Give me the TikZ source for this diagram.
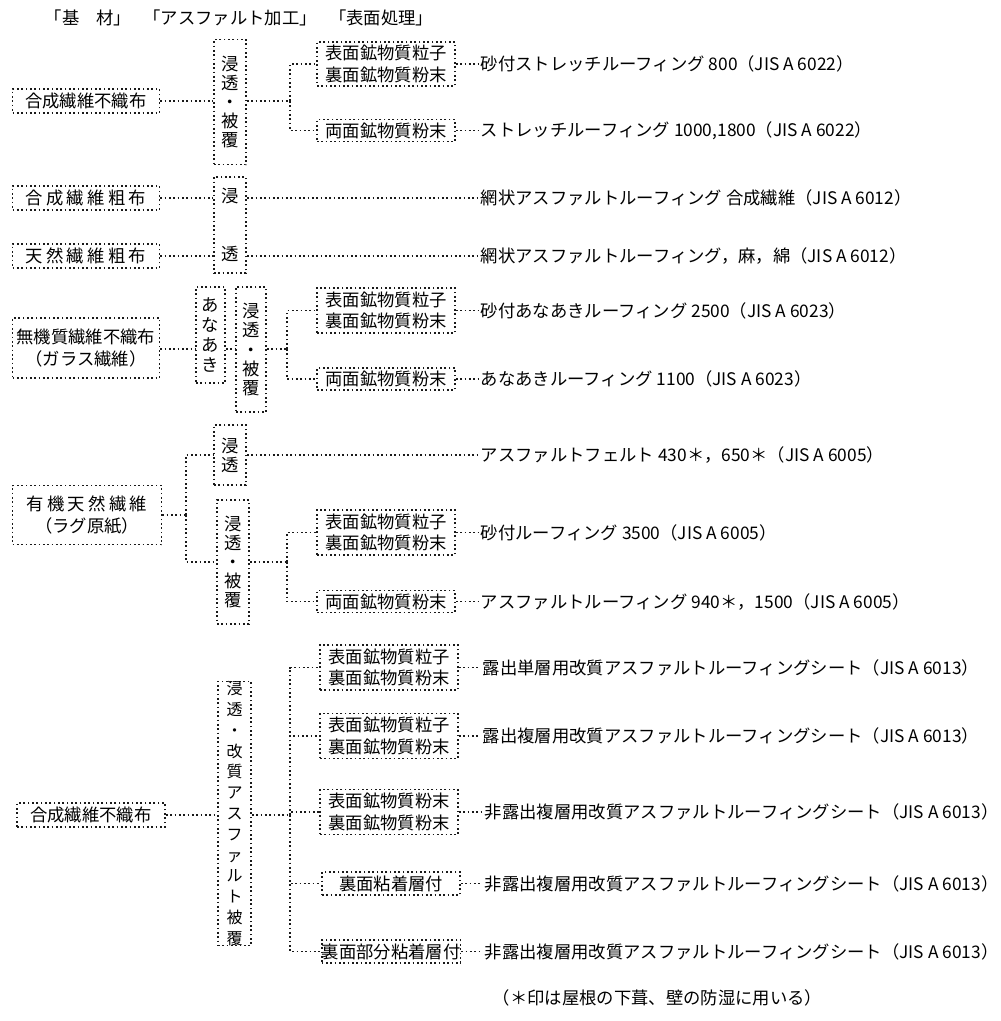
\documentclass[tikz,border=0pt]{standalone}
\usepackage{fontspec}
\setmainfont{Noto Sans CJK JP}
\begin{document}
\begin{tikzpicture}[x=0.75pt,y=-0.75pt,
  dl/.style={line width=1.25pt, dash pattern=on 1.25pt off 2pt, draw=black!90},
  wh/.style 2 args={minimum width=#1*0.75pt, minimum height=#2*0.75pt},
  bx/.style={dl, draw, inner sep=0pt, align=center, font=\fontsize{13}{16}\selectfont},
  vb/.style={dl, draw, inner sep=0pt, align=center, font=\fontsize{13}{14.3}\selectfont},
  outtxt/.style={anchor=west, inner sep=2pt, font=\fontsize{13}{16}\selectfont},
  hd/.style={inner sep=0pt, font=\fontsize{13}{16}\selectfont}]
\useasboundingbox[fill=white] (0,0) rectangle (1000,1021);

% header
\node[hd] (h1) at (88,18) {「基\kern13pt 材」};
\node[hd] (h2) at (230,18) {「アスファルト加工」};
\node[hd] (h3) at (381,18) {「表面処理」};

% ---------- block 1
\node[bx, wh={147}{24}] (L1) at (86,101) {合成繊維不織布};
\node[vb, wh={32}{125}] (P1) at (230,102) {浸\\透\\・\\被\\覆};
\node[bx, wh={138}{44}] (T1a) at (386,64) {表面鉱物質粒子\\裏面鉱物質粉末};
\node[bx, wh={138}{22}] (T1b) at (386,130.5) {両面鉱物質粉末};
\node[outtxt] (R1) at (478,64) {砂付ストレッチルーフィング 800（JIS A 6022）};
\node[outtxt] (R2) at (478,130.5) {ストレッチルーフィング 1000,1800（JIS A 6022）};
\coordinate (j1) at (290,101);
\draw[dl] (L1.east) -- (L1.east -| P1.west);
\draw[dl] (P1.east |- j1) -- (j1);
\draw[dl] (j1) |- (T1a.west);
\draw[dl] (j1) |- (T1b.west);
\draw[dl] (T1a.east) -- (R1.west);
\draw[dl] (T1b.east) -- (R2.west);

% ---------- block 2
\node[bx, wh={147}{24}] (L2) at (86,198) {合\kern2.5pt 成\kern2.5pt 繊\kern2.5pt 維\kern2.5pt 粗\kern2.5pt 布};
\node[bx, wh={147}{24}] (L3) at (86,256) {天\kern2.5pt 然\kern2.5pt 繊\kern2.5pt 維\kern2.5pt 粗\kern2.5pt 布};
\node[vb, wh={32}{96}] (P2) at (230,225) {浸\\[29pt]透};
\node[outtxt] (R3) at (478,198) {網状アスファルトルーフィング 合成繊維（JIS A 6012）};
\node[outtxt] (R4) at (478,256) {網状アスファルトルーフィング，麻，綿（JIS A 6012）};
\draw[dl] (L2.east) -- (L2.east -| P2.west);
\draw[dl] (L3.east) -- (L3.east -| P2.west);
\draw[dl] (L2.east -| P2.east) -- (R3.west);
\draw[dl] (L3.east -| P2.east) -- (R4.west);

% ---------- block 3
\node[bx, wh={147}{60}] (L4) at (86,348) {無機質繊維不織布\\（ガラス繊維）};
\node[vb, wh={29}{96}, font=\fontsize{13}{15}\selectfont] (A3) at (210.5,335) {あ\\な\\あ\\き};
\node[vb, wh={30}{125}] (P3) at (251,349.5) {浸\\透\\・\\被\\覆};
\node[bx, wh={138}{45}] (T3a) at (386,310.5) {表面鉱物質粒子\\裏面鉱物質粉末};
\node[bx, wh={138}{22}] (T3b) at (386,379) {両面鉱物質粉末};
\node[outtxt] (R5) at (478,310.5) {砂付あなあきルーフィング 2500（JIS A 6023）};
\node[outtxt] (R6) at (478,379) {あなあきルーフィング 1100（JIS A 6023）};
\coordinate (j3) at (287,349);
\draw[dl] (L4.east |- j3) -- (A3.west |- j3);
\draw[dl] (A3.east |- j3) -- (P3.west |- j3);
\draw[dl] (P3.east |- j3) -- (j3);
\draw[dl] (j3) |- (T3a.west);
\draw[dl] (j3) |- (T3b.west);
\draw[dl] (T3a.east) -- (R5.west);
\draw[dl] (T3b.east) -- (R6.west);

% ---------- block 4
\node[bx, wh={149}{59}] (L5) at (87,515) {有\kern2.5pt 機\kern2.5pt 天\kern2.5pt 然\kern2.5pt 繊\kern2.5pt 維\\（ラグ原紙）};
\node[vb, wh={32}{60}] (P4a) at (230,455) {浸\\透};
\node[vb, wh={32}{124}] (P4b) at (233,562) {浸\\透\\・\\被\\覆};
\node[bx, wh={138}{45}] (T4a) at (386,532.5) {表面鉱物質粒子\\裏面鉱物質粉末};
\node[bx, wh={138}{22}] (T4b) at (386,601.5) {両面鉱物質粉末};
\node[outtxt] (R7) at (478,455) {アスファルトフェルト 430＊，650＊（JIS A 6005）};
\node[outtxt] (R8) at (478,532.5) {砂付ルーフィング 3500（JIS A 6005）};
\node[outtxt] (R9) at (478,601.5) {アスファルトルーフィング 940＊，1500（JIS A 6005）};
\coordinate (j4) at (186,515);
\coordinate (k4) at (287,562);
\draw[dl] (L5.east) -- (j4);
\draw[dl] (j4) |- (P4a.west);
\draw[dl] (j4) |- (P4b.west);
\draw[dl] (P4a.east) -- (R7.west);
\draw[dl] (P4b.east) -- (k4);
\draw[dl] (k4) |- (T4a.west);
\draw[dl] (k4) |- (T4b.west);
\draw[dl] (T4a.east) -- (R8.west);
\draw[dl] (T4b.east) -- (R9.west);

% ---------- block 5
\node[bx, wh={148}{24}] (L6) at (91,815) {合成繊維不織布};
\node[vb, wh={33}{221}, font=\fontsize{12}{15.6}\selectfont] (P5) at (234.5,813.5) {浸\\透\\・\\改\\質\\ア\\ス\\フ\\ァ\\ル\\ト\\被\\覆};
\node[bx, wh={138}{45}] (T5a) at (389,667.5) {表面鉱物質粒子\\裏面鉱物質粉末};
\node[bx, wh={138}{45}] (T5b) at (389,736) {表面鉱物質粒子\\裏面鉱物質粉末};
\node[bx, wh={138}{45}] (T5c) at (389,812) {表面鉱物質粉末\\裏面鉱物質粉末};
\node[bx, wh={138}{23}] (T5d) at (391,883.5) {裏面粘着層付};
\node[bx, wh={138}{23}] (T5e) at (391,951.5) {裏面部分粘着層付};
\node[outtxt] (R10) at (480,667.5) {露出単層用改質アスファルトルーフィングシート（JIS A 6013）};
\node[outtxt] (R11) at (480,736) {露出複層用改質アスファルトルーフィングシート（JIS A 6013）};
\node[outtxt] (R12) at (482,812) {非露出複層用改質アスファルトルーフィングシート（JIS A 6013）};
\node[outtxt] (R13) at (482,883.5) {非露出複層用改質アスファルトルーフィングシート（JIS A 6013）};
\node[outtxt] (R14) at (482,951.5) {非露出複層用改質アスファルトルーフィングシート（JIS A 6013）};
\coordinate (j5) at (290,815);
\draw[dl] (L6.east) -- (L6.east -| P5.west);
\draw[dl] (P5.east |- j5) -- (j5);
\draw[dl] (j5) |- (T5a.west);
\draw[dl] (j5) |- (T5b.west);
\draw[dl] (j5) |- (T5c.west);
\draw[dl] (j5) |- (T5d.west);
\draw[dl] (j5) |- (T5e.west);
\draw[dl] (T5a.east) -- (R10.west);
\draw[dl] (T5b.east) -- (R11.west);
\draw[dl] (T5c.east) -- (R12.west);
\draw[dl] (T5d.east) -- (R13.west);
\draw[dl] (T5e.east) -- (R14.west);

\node[outtxt] (fn) at (490,998) {（＊印は屋根の下葺、壁の防湿に用いる）};
\end{tikzpicture}
\end{document}
